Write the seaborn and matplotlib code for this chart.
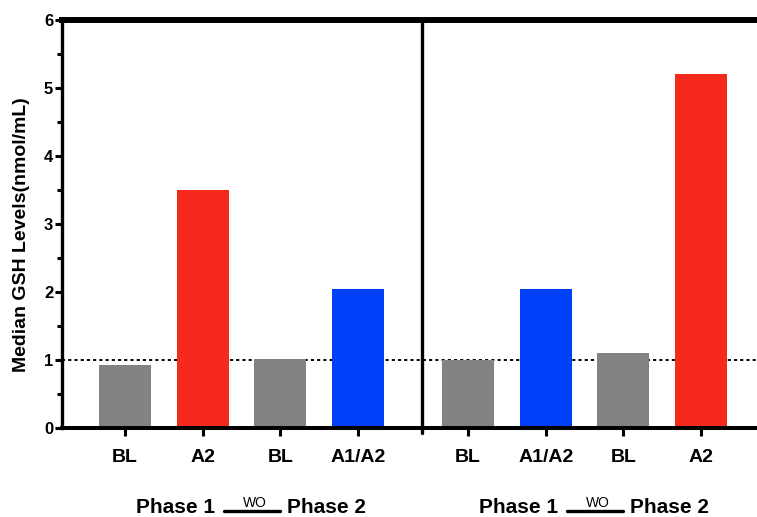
import pandas as pd
import seaborn as sns
import matplotlib.pyplot as plt
from matplotlib.ticker import MultipleLocator
from matplotlib.transforms import blended_transform_factory

# Values (two panels of four bars each)
panels = [0, 0, 0, 0, 1, 1, 1, 1]
treatments = ["BL", "A2", "BL", "A1/A2", "BL", "A1/A2", "BL", "A2"]
gsh_median = [0.93, 3.50, 1.01, 2.05, 1.00, 2.04, 1.11, 5.20]
phase_labels = ["Phase 1", "Phase 2"]
washout_label = "WO"

colors = {"BL": "#838383", "A2": "#F5291C", "A1/A2": "#0040F8"}
panel_offset = 4.42  # distance between first bars of the two panels

df = pd.DataFrame({"panel": panels, "treatment": treatments, "gsh": gsh_median})
df["pos"] = df.groupby("panel").cumcount() + df["panel"] * panel_offset

sns.set_theme(style="white")
plt.rcParams["font.family"] = ["Liberation Sans", "DejaVu Sans"]
plt.rcParams["font.weight"] = "bold"
plt.rcParams["text.color"] = "black"

fig = plt.figure(figsize=(7.57, 5.17), dpi=100)
ax = fig.add_axes([61.5 / 757, 89 / 517, 1 - 61.5 / 757, 408 / 517])

sns.barplot(data=df, x="pos", y="gsh", hue="treatment", palette=colors,
            native_scale=True, width=0.67, dodge=False, errorbar=None,
            saturation=1, linewidth=0, legend=False, ax=ax, zorder=2)

# reference line at 1
ax.axhline(1, color="black", ls=(0, (1.6, 1.6)), lw=1.4, zorder=1)

ax.set_xlim(-0.82, 8.144)
ax.set_ylim(0, 6)
ax.set_xticks(df["pos"])
ax.set_xticklabels(treatments, fontsize=14, fontweight="bold")
ax.set_xlabel("")
ax.yaxis.set_major_locator(MultipleLocator(1))
ax.yaxis.set_minor_locator(MultipleLocator(0.5))
ax.set_yticklabels([f"{v:g}" for v in ax.get_yticks()], fontsize=12, fontweight="bold")
ax.set_ylabel("Median GSH Levels(nmol/mL)", fontsize=14, fontweight="bold", color="black")
ax.yaxis.set_label_coords(-0.046, 0.475)

ax.tick_params(axis="x", bottom=True, length=5.8, width=2.2, pad=9, colors="black")
ax.tick_params(axis="y", which="major", left=True, length=5, width=2.2, pad=1, colors="black")
ax.tick_params(axis="y", which="minor", left=True, length=3.6, width=2.2, colors="black")

for side in ["left", "bottom", "top"]:
    ax.spines[side].set_color("black")
ax.spines["right"].set_visible(False)
ax.spines["left"].set_linewidth(2.4)
ax.spines["bottom"].set_linewidth(2.9)
ax.spines["top"].set_linewidth(4.3)

# divider between the two panels
ax.axvline(3.82, ymin=-0.012, ymax=1, color="black", lw=2.4, clip_on=False)

# phase annotations under each panel
trans = blended_transform_factory(ax.transData, fig.transFigure)
for p in sorted(set(panels)):
    x0 = p * panel_offset
    ax.text(x0 + 0.645, 0.0077, phase_labels[0], transform=trans, ha="center",
            va="baseline", fontsize=15, fontweight="bold", color="black")
    ax.text(x0 + 2.59, 0.0077, phase_labels[1], transform=trans, ha="center",
            va="baseline", fontsize=15, fontweight="bold", color="black")
    ax.plot([x0 + 1.28, x0 + 2.0], [0.0116, 0.0116], transform=trans,
            color="black", lw=2.4, clip_on=False)
    ax.text(x0 + 1.675, 0.0185, washout_label, transform=trans, ha="center",
            va="baseline", fontsize=10, fontweight="normal", color="black")

fig.savefig("out.png", dpi=100)
